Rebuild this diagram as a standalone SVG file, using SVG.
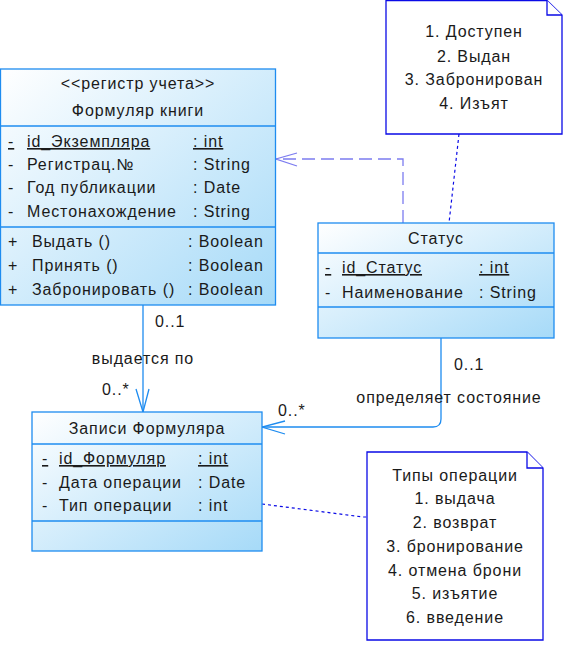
<svg xmlns="http://www.w3.org/2000/svg" width="567" height="645" viewBox="0 0 567 645">
<defs>
<linearGradient id="cg" x1="0" y1="0" x2="1" y2="1">
<stop offset="0" stop-color="#ffffff"/>
<stop offset="1" stop-color="#a6daf8"/>
</linearGradient>
<style>
.cls{fill:url(#cg);stroke:#1e8cf0;stroke-width:1.3}
.div{stroke:#1e8cf0;stroke-width:1.3;fill:none}
.t{font-family:"Liberation Sans",Arial,sans-serif;font-size:16px;letter-spacing:0.9px;fill:#1a1a1a}
.c{text-anchor:middle}
.u{text-decoration:underline}
.note{fill:#ffffff;stroke:#0a0ae6;stroke-width:1.3}
.assoc{stroke:#1e8cf0;stroke-width:1.3;fill:none}
.dep{stroke:#7c7cf0;stroke-width:1.3;fill:none}
.dot{stroke:#0a0ae6;stroke-width:1.2;fill:none;stroke-dasharray:3 3}
</style>
</defs>
<rect width="567" height="645" fill="#ffffff"/>

<g id="connectors">
<path class="dep" d="M403,223 V159 H276" stroke-dasharray="13 6"/>
<path class="dep" d="M297,153 L276,159 L297,166"/>
<path class="assoc" d="M143,305 V412"/>
<path class="assoc" d="M136,389 L143,412 L149,389"/>
<path class="assoc" d="M441,338 V419 Q441,427 433,427 H262"/>
<path class="assoc" d="M285,421 L262,427 L285,434"/>
<path class="dot" d="M459,134 L449,223"/>
<path class="dot" d="M262,504 L363,517 H367"/>
<text class="t" x="155" y="327">0..1</text>
<text class="t c" x="143" y="364">выдается по</text>
<text class="t" x="102" y="395">0..*</text>
<text class="t" x="454" y="370">0..1</text>
<text class="t c" x="449" y="403">определяет состояние</text>
<text class="t" x="278" y="416">0..*</text>
</g>

<g id="formular">
<rect class="cls" x="0.5" y="69" width="275" height="236"/>
<line class="div" x1="0.5" y1="126" x2="275.5" y2="126"/>
<line class="div" x1="0.5" y1="227" x2="275.5" y2="227"/>
<text class="t c" x="138" y="89">&lt;&lt;регистр учета&gt;&gt;</text>
<text class="t c" x="138" y="116">Формуляр книги</text>
<text class="t u" x="8" y="147">-</text>
<text class="t u" x="27" y="147">id_Экземпляра</text>
<text class="t u" x="193" y="147">: int</text>
<text class="t" x="8" y="170">-</text>
<text class="t" x="27" y="170">Регистрац.№</text>
<text class="t" x="193" y="170">: String</text>
<text class="t" x="8" y="193">-</text>
<text class="t" x="27" y="193">Год публикации</text>
<text class="t" x="193" y="193">: Date</text>
<text class="t" x="8" y="217">-</text>
<text class="t" x="27" y="217">Местонахождение</text>
<text class="t" x="193" y="217">: String</text>
<text class="t" x="8" y="247">+</text>
<text class="t" x="32" y="247">Выдать ()</text>
<text class="t" x="188" y="247">: Boolean</text>
<text class="t" x="8" y="271">+</text>
<text class="t" x="32" y="271">Принять ()</text>
<text class="t" x="188" y="271">: Boolean</text>
<text class="t" x="8" y="295">+</text>
<text class="t" x="32" y="295">Забронировать ()</text>
<text class="t" x="188" y="295">: Boolean</text>
</g>

<g id="status">
<rect class="cls" x="318" y="223" width="236" height="115"/>
<line class="div" x1="318" y1="253" x2="554" y2="253"/>
<line class="div" x1="318" y1="307" x2="554" y2="307"/>
<text class="t c" x="436" y="244">Статус</text>
<text class="t u" x="325" y="273">-</text>
<text class="t u" x="342" y="273">id_Статус</text>
<text class="t u" x="479" y="273">: int</text>
<text class="t" x="325" y="298">-</text>
<text class="t" x="342" y="298">Наименование</text>
<text class="t" x="479" y="298">: String</text>
</g>

<g id="zapisi">
<rect class="cls" x="32" y="412" width="230" height="139"/>
<line class="div" x1="32" y1="444" x2="262" y2="444"/>
<line class="div" x1="32" y1="521" x2="262" y2="521"/>
<text class="t c" x="147" y="434">Записи Формуляра</text>
<text class="t u" x="42" y="464">-</text>
<text class="t u" x="59" y="464">id_Формуляр</text>
<text class="t u" x="198" y="464">: int</text>
<text class="t" x="42" y="488">-</text>
<text class="t" x="59" y="488">Дата операции</text>
<text class="t" x="198" y="488">: Date</text>
<text class="t" x="42" y="511">-</text>
<text class="t" x="59" y="511">Тип операции</text>
<text class="t" x="198" y="511">: int</text>
</g>

<g id="note-status">
<path class="note" d="M386,0.5 H547 L562,15 V134 H386 Z"/>
<path class="note" d="M547,0.5 V15 H562" fill="none"/>
<text class="t c" x="474" y="37">1. Доступен</text>
<text class="t c" x="474" y="62">2. Выдан</text>
<text class="t c" x="474" y="85">3. Забронирован</text>
<text class="t c" x="474" y="109">4. Изъят</text>
</g>

<g id="note-types">
<path class="note" d="M367,452 H527 L543,468 V640 H367 Z"/>
<path class="note" d="M527,452 V468 H543" fill="none"/>
<text class="t c" x="455" y="481">Типы операции</text>
<text class="t c" x="455" y="504">1. выдача</text>
<text class="t c" x="455" y="528">2. возврат</text>
<text class="t c" x="455" y="552">3. бронирование</text>
<text class="t c" x="455" y="576">4. отмена брони</text>
<text class="t c" x="455" y="599">5. изъятие</text>
<text class="t c" x="455" y="623">6. введение</text>
</g>
</svg>
